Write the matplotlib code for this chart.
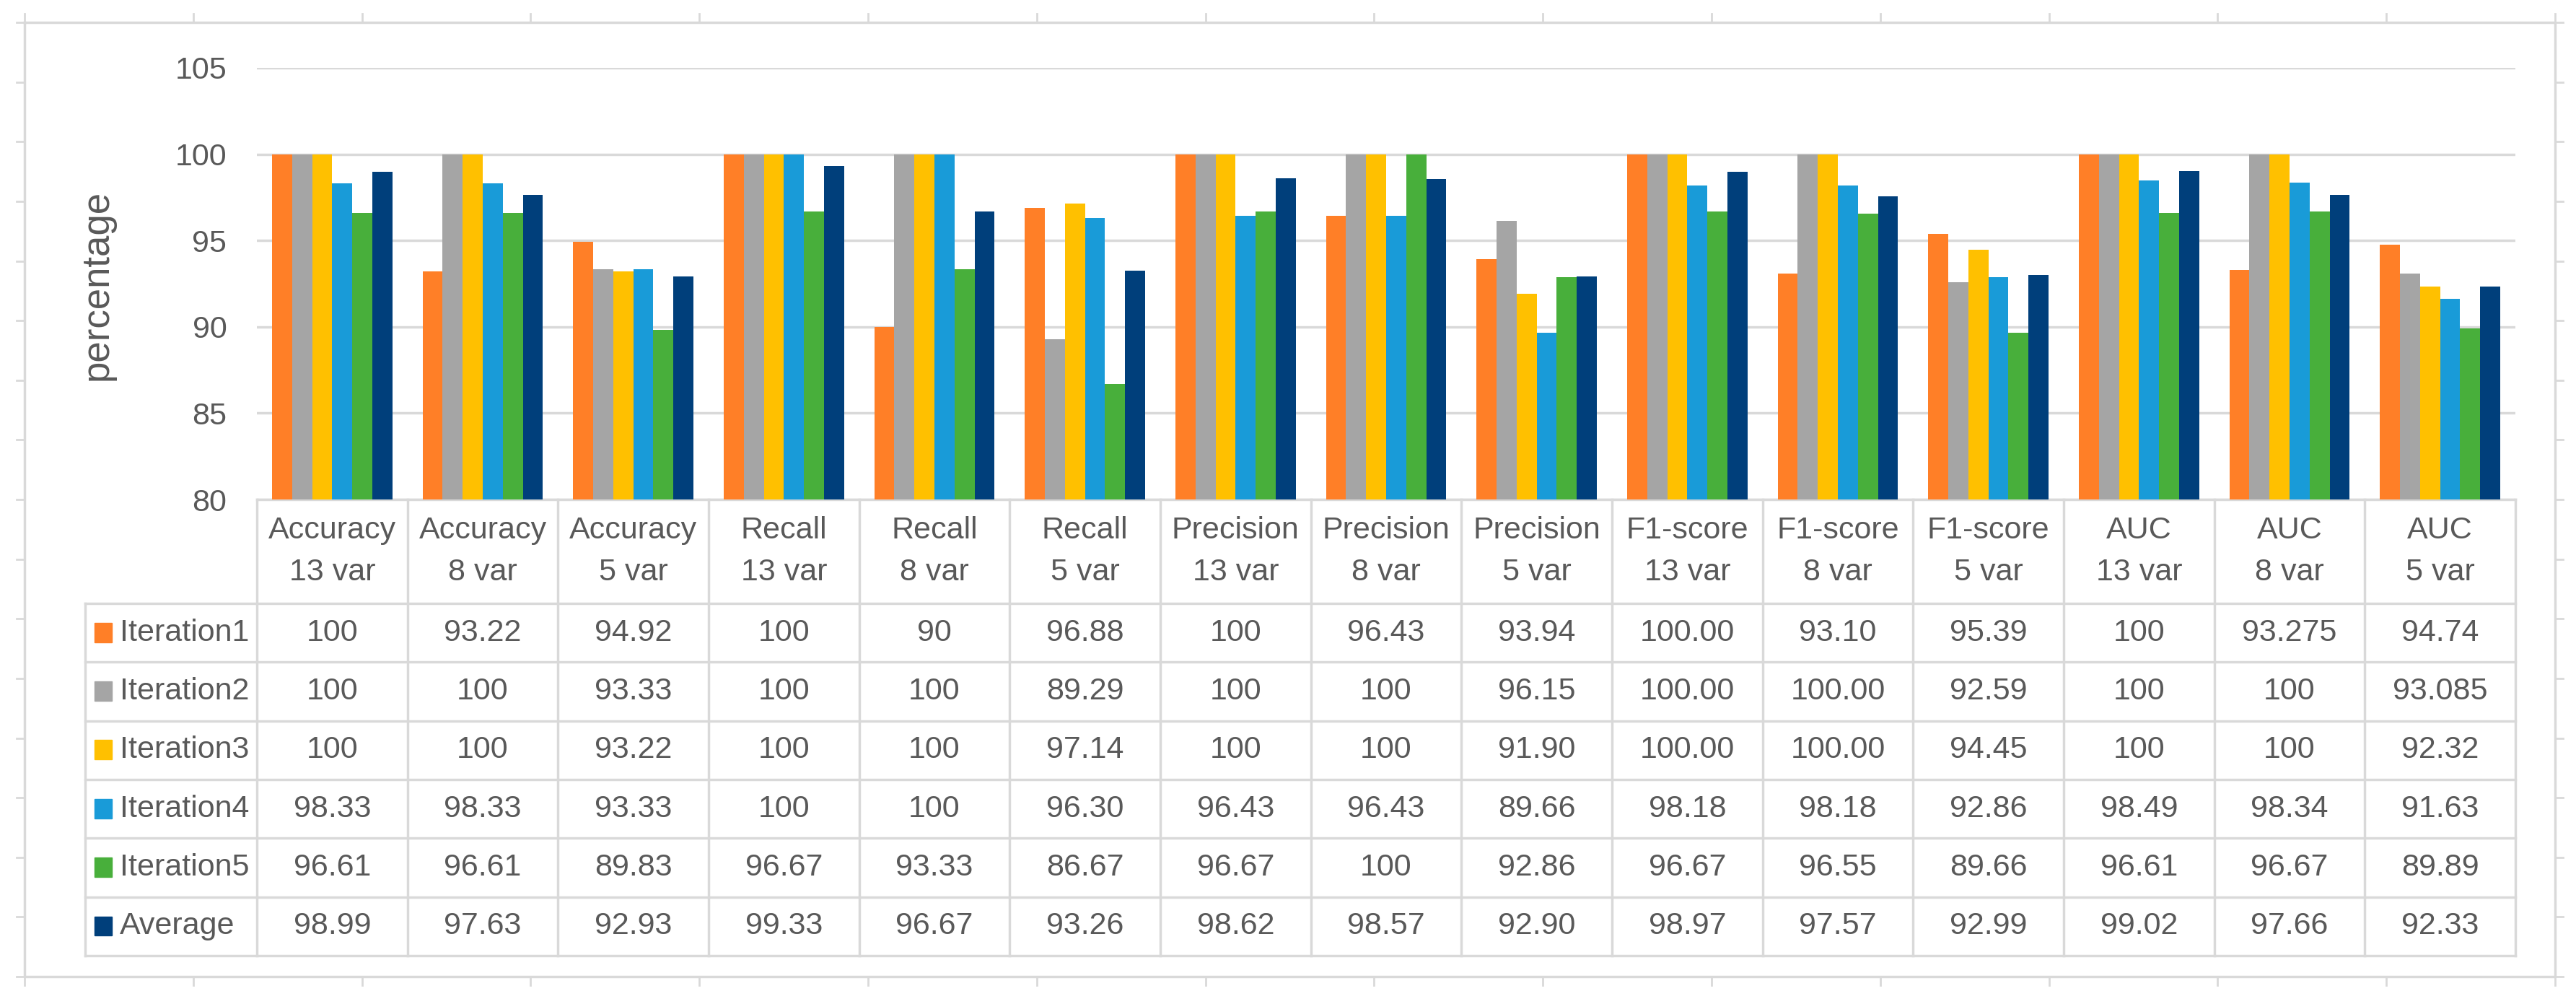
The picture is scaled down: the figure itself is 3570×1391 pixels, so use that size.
import matplotlib
matplotlib.use("Agg")
import matplotlib.pyplot as plt
from matplotlib.patches import Rectangle
import numpy as np

plt.rcParams['font.family'] = ['Liberation Sans Narrow', 'Liberation Sans', 'DejaVu Sans']

## data (as printed in the table under the chart)
categories = ["Accuracy\n13 var", "Accuracy\n8 var", "Accuracy\n5 var",
              "Recall\n13 var", "Recall\n8 var", "Recall\n5 var",
              "Precision\n13 var", "Precision\n8 var", "Precision\n5 var",
              "F1-score\n13 var", "F1-score\n8 var", "F1-score\n5 var",
              "AUC\n13 var", "AUC\n8 var", "AUC\n5 var"]
series_names = ["Iteration1", "Iteration2", "Iteration3", "Iteration4", "Iteration5", "Average"]
iteration1 = ["100", "93.22", "94.92", "100", "90", "96.88", "100", "96.43", "93.94",
              "100.00", "93.10", "95.39", "100", "93.275", "94.74"]
iteration2 = ["100", "100", "93.33", "100", "100", "89.29", "100", "100", "96.15",
              "100.00", "100.00", "92.59", "100", "100", "93.085"]
iteration3 = ["100", "100", "93.22", "100", "100", "97.14", "100", "100", "91.90",
              "100.00", "100.00", "94.45", "100", "100", "92.32"]
iteration4 = ["98.33", "98.33", "93.33", "100", "100", "96.30", "96.43", "96.43", "89.66",
              "98.18", "98.18", "92.86", "98.49", "98.34", "91.63"]
iteration5 = ["96.61", "96.61", "89.83", "96.67", "93.33", "86.67", "96.67", "100", "92.86",
              "96.67", "96.55", "89.66", "96.61", "96.67", "89.89"]
average = ["98.99", "97.63", "92.93", "99.33", "96.67", "93.26", "98.62", "98.57", "92.90",
           "98.97", "97.57", "92.99", "99.02", "97.66", "92.33"]
y_ticks = [80, 85, 90, 95, 100, 105]

rows = [iteration1, iteration2, iteration3, iteration4, iteration5, average]
colors = ['#FF7F27', '#A5A5A5', '#FFC000', '#199BD8', '#48AF3B', '#003F7B']
grid_c = '#D9D9D9'
text_c = '#595959'
W, H = 3570, 1391

fig = plt.figure(figsize=(W / 100, H / 100), dpi=100)

# outer chart frame with the spreadsheet cell marks around it
frame = fig.add_axes([0, 0, 1, 1])
frame.set_xlim(0, W)
frame.set_ylim(H, 0)
frame.axis('off')
fl, fr, ft, fb = 34, 3541, 31, 1353
frame.plot([fl, fr, fr, fl, fl], [ft, ft, fb, fb, ft], color=grid_c, lw=2.5)
for xk in np.linspace(fl, fr, 16):
    frame.plot([xk, xk], [ft - 12, ft], color=grid_c, lw=2)
    frame.plot([xk, xk], [fb, fb + 12], color=grid_c, lw=2)
for yk in np.linspace(ft, fb, 17):
    frame.plot([fl - 11, fl], [yk, yk], color=grid_c, lw=2)
    frame.plot([fr, fr + 11], [yk, yk], color=grid_c, lw=2)

# bar chart
left, right = 356, 3486
ax = fig.add_axes([left / W, 1 - 692 / H, (right - left) / W, (692 - 94) / H])
x = np.arange(len(categories))
bw = 0.8 / len(rows)
for i, (vals, c) in enumerate(zip(rows, colors)):
    ax.bar(x - 0.4 + bw * (i + 0.5), [float(v) for v in vals], bw, color=c, zorder=3)
ax.set_xlim(-0.5, len(categories) - 0.5)
ax.set_ylim(80, 105)
ax.set_yticks(y_ticks)
ax.set_xticks([])
ax.yaxis.grid(True, color=grid_c, lw=2.5, zorder=0)
ax.tick_params(axis='y', length=0, pad=30, labelsize=31, labelcolor=text_c)
for s in ['top', 'right', 'left']:
    ax.spines[s].set_visible(False)
ax.spines['bottom'].set_color(grid_c)
ax.spines['bottom'].set_linewidth(2.5)
fig.text(135 / W, 1 - 395 / H, 'percentage', rotation=90, ha='center', va='center',
         fontsize=38, color=text_c)

# data table under the bars
tab = fig.add_axes([left / W, 1 - 1324 / H, (right - left) / W, (1324 - 692) / H])
hdr = 1.77
n = len(categories)
tab.set_xlim(-0.5, n - 0.5)
tab.set_ylim(hdr + len(rows), 0)
tab.axis('off')
leg_l = -0.5 - (left - 118) / ((right - left) / n)
for k in range(n + 1):
    tab.plot([k - 0.5, k - 0.5], [0, hdr + len(rows)], color=grid_c, lw=2.5, clip_on=False)
tab.plot([leg_l, leg_l], [hdr, hdr + len(rows)], color=grid_c, lw=2.5, clip_on=False)
for r in range(len(rows) + 1):
    tab.plot([leg_l, n - 0.5], [hdr + r, hdr + r], color=grid_c, lw=2.5, clip_on=False)
for j, cat in enumerate(categories):
    tab.text(j, hdr / 2, cat, ha='center', va='center', fontsize=31, color=text_c,
             linespacing=1.55)
for r, (name, vals, c) in enumerate(zip(series_names, rows, colors)):
    yc = hdr + r + 0.5
    tab.add_patch(Rectangle((leg_l + 0.062, yc - 0.17), 0.115, 0.33, color=c, clip_on=False))
    tab.text(leg_l + 0.23, yc, name, ha='left', va='center', fontsize=31, color=text_c)
    for j, v in enumerate(vals):
        tab.text(j, yc, v, ha='center', va='center', fontsize=31, color=text_c)

fig.savefig('out.png', dpi=100, facecolor='white')
